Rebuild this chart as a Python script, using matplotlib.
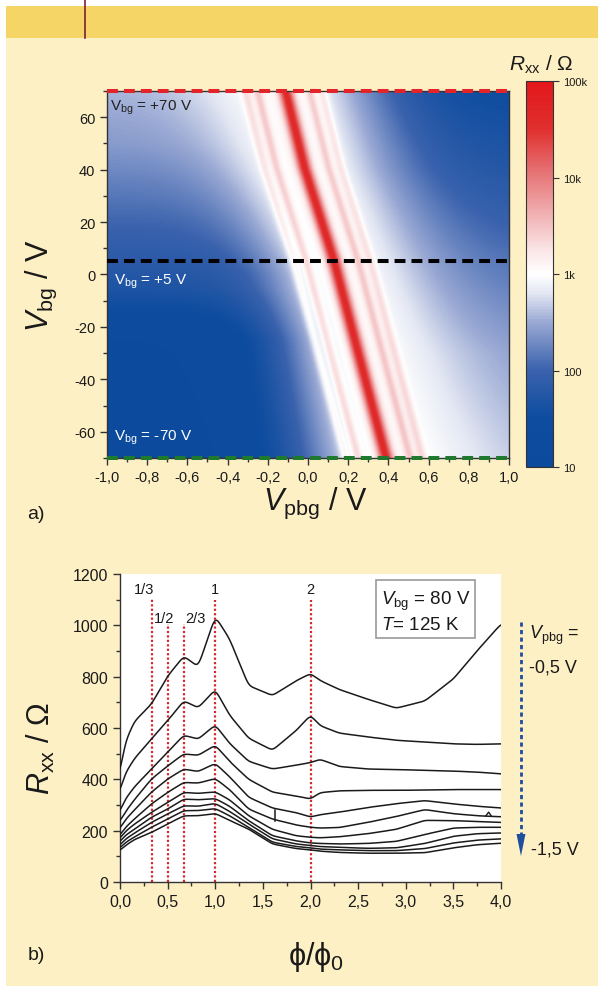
import numpy as np
import matplotlib
matplotlib.use("Agg")
import matplotlib.pyplot as plt
from matplotlib.colors import LinearSegmentedColormap
from matplotlib.patches import Rectangle, Polygon
from matplotlib.lines import Line2D
from matplotlib.ticker import MultipleLocator, FuncFormatter

plt.rcParams["font.family"] = ["Liberation Sans", "DejaVu Sans"]
plt.rcParams["mathtext.fontset"] = "custom"
plt.rcParams["mathtext.rm"] = "Liberation Sans"
plt.rcParams["mathtext.it"] = "Liberation Sans:italic"
plt.rcParams["axes.unicode_minus"] = False

# ---- panel a: resistance map ----
# position of the main Dirac ridge (V_pbg) for given V_bg
vbg_ctrl = [-70, -29, 5, 41, 70]
ridge_ctrl = [0.385, 0.244, 0.128, -0.02, -0.113]
# satellite ridges, offset from main ridge, and their strength (log10 units)
sat_off = [-0.2, -0.14, 0.12, 0.18]
sat_amp = [0.35, 0.45, 0.45, 0.35]
# log10(R) level far from the ridge, left and right side
lvl_v = [-70, -25, -5, 10, 30, 50, 70]
left_lvl = [1.2, 1.25, 1.7, 1.9, 2.15, 2.4, 2.55]
rlvl_v = [-70, -30, 5, 40, 70]
right_lvl = [2.55, 2.4, 2.1, 1.75, 1.5]
wid_v = [-70, 0, 70]
left_wid = [0.45, 0.35, 0.45]
right_wid = [0.55, 0.5, 0.5]

# ---- panel b: Rxx vs flux, V_pbg = -0.5 ... -1.5 V ----
phi_pts = [0.0, 0.05, 0.15, 0.33, 0.5, 0.67, 0.82, 1.0, 1.15, 1.35, 1.6,
           1.85, 2.0, 2.1, 2.3, 2.6, 2.9, 3.2, 3.5, 3.75, 4.0]
r_m05 = [420, 540, 625, 693, 802, 880, 838, 1035, 947, 765, 726, 784, 812, 785, 750, 712, 677, 705, 791, 901, 1005]
r_m06 = [350, 420, 480, 557, 628, 706, 678, 750, 650, 560, 513, 590, 650, 609, 580, 565, 552, 545, 538, 536, 538]
r_m07 = [272, 320, 370, 440, 506, 572, 556, 612, 540, 470, 440, 455, 465, 478, 450, 440, 438, 435, 432, 428, 421]
r_m08 = [234, 270, 320, 401, 452, 499, 493, 533, 470, 400, 350, 335, 323, 348, 355, 357, 357, 358, 360, 360, 360]
r_m09 = [206, 240, 280, 350, 401, 440, 430, 462, 410, 330, 288, 270, 253, 262, 272, 290, 305, 317, 304, 295, 288]
r_m10 = [180, 210, 245, 304, 349, 388, 385, 403, 360, 284, 245, 222, 213, 210, 212, 232, 255, 282, 266, 258, 254]
r_m11 = [168, 195, 225, 271, 310, 349, 345, 351, 320, 258, 205, 180, 174, 172, 176, 188, 205, 240, 239, 235, 232]
r_m12 = [155, 180, 205, 252, 284, 323, 320, 325, 295, 239, 180, 160, 152, 150, 148, 150, 158, 185, 210, 213, 213]
r_m13 = [142, 165, 190, 232, 265, 297, 295, 306, 275, 226, 168, 148, 142, 138, 135, 131, 133, 150, 178, 188, 191]
r_m14 = [131, 152, 175, 213, 245, 278, 278, 286, 258, 213, 155, 138, 133, 128, 125, 122, 122, 130, 152, 163, 168]
r_m15 = [122, 140, 165, 193, 226, 258, 258, 267, 240, 206, 148, 130, 125, 120, 115, 112, 112, 114, 133, 145, 151]
curves = [r_m05, r_m06, r_m07, r_m08, r_m09, r_m10, r_m11, r_m12, r_m13, r_m14, r_m15]
glitch_phi = [1.63, 1.63]
glitch_r = [238, 282]
spike_phi = [3.84, 3.87, 3.9]
spike_r = [257, 272, 256]
frac_pos = [1/3, 1/2, 2/3, 1, 2]
frac_top = [1105, 1005, 1005, 1100, 1100]
frac_labels = ["1/3", "1/2", "2/3", "1", "2"]

cream = "#FEF0C5"
fig = plt.figure(figsize=(5.98, 9.87), dpi=100, facecolor=cream)

# header decoration
fig.add_artist(Rectangle((0, 0.9929), 1, 0.0071, transform=fig.transFigure, fc="white", ec="none"))
fig.add_artist(Rectangle((0, 0), 0.010, 1, transform=fig.transFigure, fc="white", ec="none"))
fig.add_artist(Rectangle((0.010, 0.9605), 0.99, 0.0324, transform=fig.transFigure, fc="#F5D565", ec="none"))
fig.add_artist(Line2D([0.1421, 0.1421], [0.9605, 1.0], transform=fig.transFigure, color="#7A1F3D", lw=1.2))


def comma(v, pos):
    return f"{v:.1f}".replace(".", ",").replace("-0,0", "0,0")


# ---------------- panel a ----------------
xs = np.linspace(-1, 1, 501)
vs = np.linspace(-70, 70, 281)
X, V = np.meshgrid(xs, vs)
d = X - np.interp(V, vbg_ctrl, ridge_ctrl)
L = np.where(d < 0, np.interp(V, lvl_v, left_lvl), np.interp(V, rlvl_v, right_lvl))
W = np.where(d < 0, np.interp(V, wid_v, left_wid), np.interp(V, wid_v, right_wid))
logR = L + (3.05 - L) * np.exp(-np.abs(d / W) ** 2.0)
logR += 1.6 * np.exp(-(d / 0.036) ** 2)
for off, amp in zip(sat_off, sat_amp):
    logR += amp * np.exp(-((d - off) / 0.024) ** 2)

cmap = LinearSegmentedColormap.from_list("rb", [
    (0.0, "#0B4A9C"), (0.125, "#0D4C9F"), (0.25, "#3A62AD"), (0.375, "#9AA9D4"),
    (0.45, "#E3E7F3"), (0.5, "#FFFFFF"), (0.56, "#FBE6E7"), (0.75, "#E77B7D"),
    (0.875, "#E0302F"), (1.0, "#E3171B")])

ax_a = fig.add_axes([0.1789, 0.5350, 0.6723, 0.3718])
im = ax_a.imshow(logR, extent=(-1, 1, -70, 70), origin="lower", aspect="auto",
                 cmap=cmap, vmin=1, vmax=5, interpolation="bilinear")
ax_a.set_xlim(-1, 1)
ax_a.set_ylim(-70, 70)
ax_a.axhline(70, color="#E3252B", lw=2.9, ls=(0, (2.7, 1.5)), clip_on=False, zorder=5)
ax_a.axhline(5, color="black", lw=2.9, ls=(0, (2.7, 1.5)), zorder=5)
ax_a.axhline(-70, color="#1F7A30", lw=2.9, ls=(0, (2.7, 1.5)), clip_on=False, zorder=5)
ax_a.text(-0.985, 64, r"$\mathrm{V}_{\mathrm{bg}}$ = +70 V", color="#222222", fontsize=11, va="center")
ax_a.text(-0.965, -2.5, r"$\mathrm{V}_{\mathrm{bg}}$ = +5 V", color="white", fontsize=11, va="center")
ax_a.text(-0.965, -62, r"$\mathrm{V}_{\mathrm{bg}}$ = -70 V", color="white", fontsize=11, va="center")

ax_a.xaxis.set_major_locator(MultipleLocator(0.2))
ax_a.xaxis.set_minor_locator(MultipleLocator(0.1))
ax_a.yaxis.set_major_locator(MultipleLocator(20))
ax_a.yaxis.set_minor_locator(MultipleLocator(10))
ax_a.xaxis.set_major_formatter(FuncFormatter(comma))
ax_a.tick_params(which="both", direction="out", width=1, colors="#333333", labelcolor="#1a1a1a", labelsize=10.5)
ax_a.tick_params(which="major", length=5)
ax_a.tick_params(which="minor", length=3)
for s in ax_a.spines.values():
    s.set_color("#333333")
    s.set_linewidth(1)

cax = fig.add_axes([0.8796, 0.5258, 0.0452, 0.3911])
cb = fig.colorbar(im, cax=cax, ticks=[1, 2, 3, 4, 5])
cb.ax.set_yticklabels(["10", "100", "1k", "10k", "100k"])
cb.ax.tick_params(length=4, width=0.8, labelsize=8, colors="#333333", labelcolor="#1a1a1a")
cb.outline.set_linewidth(0.8)
cb.outline.set_edgecolor("#333333")
fig.text(0.905, 0.934, r"$R_{\mathrm{xx}}$ / Ω", fontsize=15, ha="center", va="center", color="#1a1a1a")

fig.text(0.527, 0.4904, r"$V_{\mathrm{pbg}}$ / V", fontsize=22, ha="center", va="center", color="#1a1a1a")
fig.text(0.070, 0.711, r"$V_{\mathrm{bg}}$ / V", fontsize=22, ha="center", va="center", rotation=90, color="#1a1a1a")
fig.text(0.060, 0.4792, "a)", fontsize=14, ha="center", va="center", color="#1a1a1a")

# ---------------- panel b ----------------
ax_b = fig.add_axes([0.2007, 0.1054, 0.6371, 0.3121])
ax_b.set_facecolor("white")
ax_b.set_xlim(0, 4)
ax_b.set_ylim(0, 1200)
ax_b.spines["top"].set_visible(False)
ax_b.spines["right"].set_visible(False)
for s in ("left", "bottom"):
    ax_b.spines[s].set_color("#333333")
    ax_b.spines[s].set_linewidth(1)

ax_b.vlines(frac_pos, 0, frac_top, colors="#D42A2E", linestyles=(0, (1, 1)), lw=1.6, zorder=1)
lab_x = [0.25, 0.46, 0.79, 1.0, 2.0]
lab_y = [1141, 1028, 1028, 1141, 1141]
for lx, ly, t in zip(lab_x, lab_y, frac_labels):
    ax_b.text(lx, ly, t, ha="center", va="center", fontsize=10.5, color="#1a1a1a")

phi_f = np.linspace(0, 4, 801)
sig = 5
kern = np.exp(-0.5 * (np.arange(-4 * sig, 4 * sig + 1) / sig) ** 2)
kern /= kern.sum()
for r in curves:
    y = np.interp(phi_f, phi_pts, r)
    ypad = np.concatenate([np.full(4 * sig, y[0]), y, np.full(4 * sig, y[-1])])
    ys = np.convolve(ypad, kern, mode="valid")
    ax_b.plot(phi_f, ys, color="#1a1a1a", lw=1.1, zorder=3)
ax_b.plot(glitch_phi, glitch_r, color="#1a1a1a", lw=1.1, zorder=3)
ax_b.plot(spike_phi, spike_r, color="#1a1a1a", lw=1.0, zorder=3)

ax_b.text(2.74, 1056, r"$V_{\mathrm{bg}}$ = 80 V" + "\n" + r"$T$= 125 K", fontsize=13.5, va="center",
          linespacing=1.35, color="#1a1a1a",
          bbox=dict(boxstyle="square,pad=0.25", fc="white", ec="#9a9a9a", lw=1.2), zorder=4)

ax_b.xaxis.set_major_locator(MultipleLocator(0.5))
ax_b.xaxis.set_minor_locator(MultipleLocator(0.25))
ax_b.yaxis.set_major_locator(MultipleLocator(200))
ax_b.yaxis.set_minor_locator(MultipleLocator(100))
ax_b.xaxis.set_major_formatter(FuncFormatter(comma))
ax_b.tick_params(which="both", direction="out", width=1, colors="#333333", labelcolor="#1a1a1a", labelsize=11.5)
ax_b.tick_params(which="major", length=5)
ax_b.tick_params(which="minor", length=3)

# sweep arrow on the right
fig.add_artist(Line2D([0.8712, 0.8712], [0.3688, 0.150], transform=fig.transFigure,
                      color="#1F4E9E", lw=2, ls=(0, (1.5, 1.2))))
fig.add_artist(Polygon([[0.8637, 0.154], [0.8787, 0.154], [0.8712, 0.1317]], closed=True,
                       transform=fig.transFigure, fc="#1F4E9E", ec="none"))
fig.text(0.884, 0.3566, r"$V_{\mathrm{pbg}}$ =", fontsize=13, va="center", color="#1a1a1a")
fig.text(0.884, 0.3232, "-0,5 V", fontsize=13, va="center", color="#1a1a1a")
fig.text(0.888, 0.1388, "-1,5 V", fontsize=13, va="center", color="#1a1a1a")

fig.text(0.068, 0.2421, r"$R_{\mathrm{xx}}$ / Ω", fontsize=22, ha="center", va="center", rotation=90, color="#1a1a1a")
fig.text(0.528, 0.030, "ϕ/ϕ$_0$", fontsize=22, ha="center", va="center", color="#1a1a1a")
fig.text(0.060, 0.0324, "b)", fontsize=14, ha="center", va="center", color="#1a1a1a")

fig.savefig("out.png", dpi=100, facecolor=cream)
